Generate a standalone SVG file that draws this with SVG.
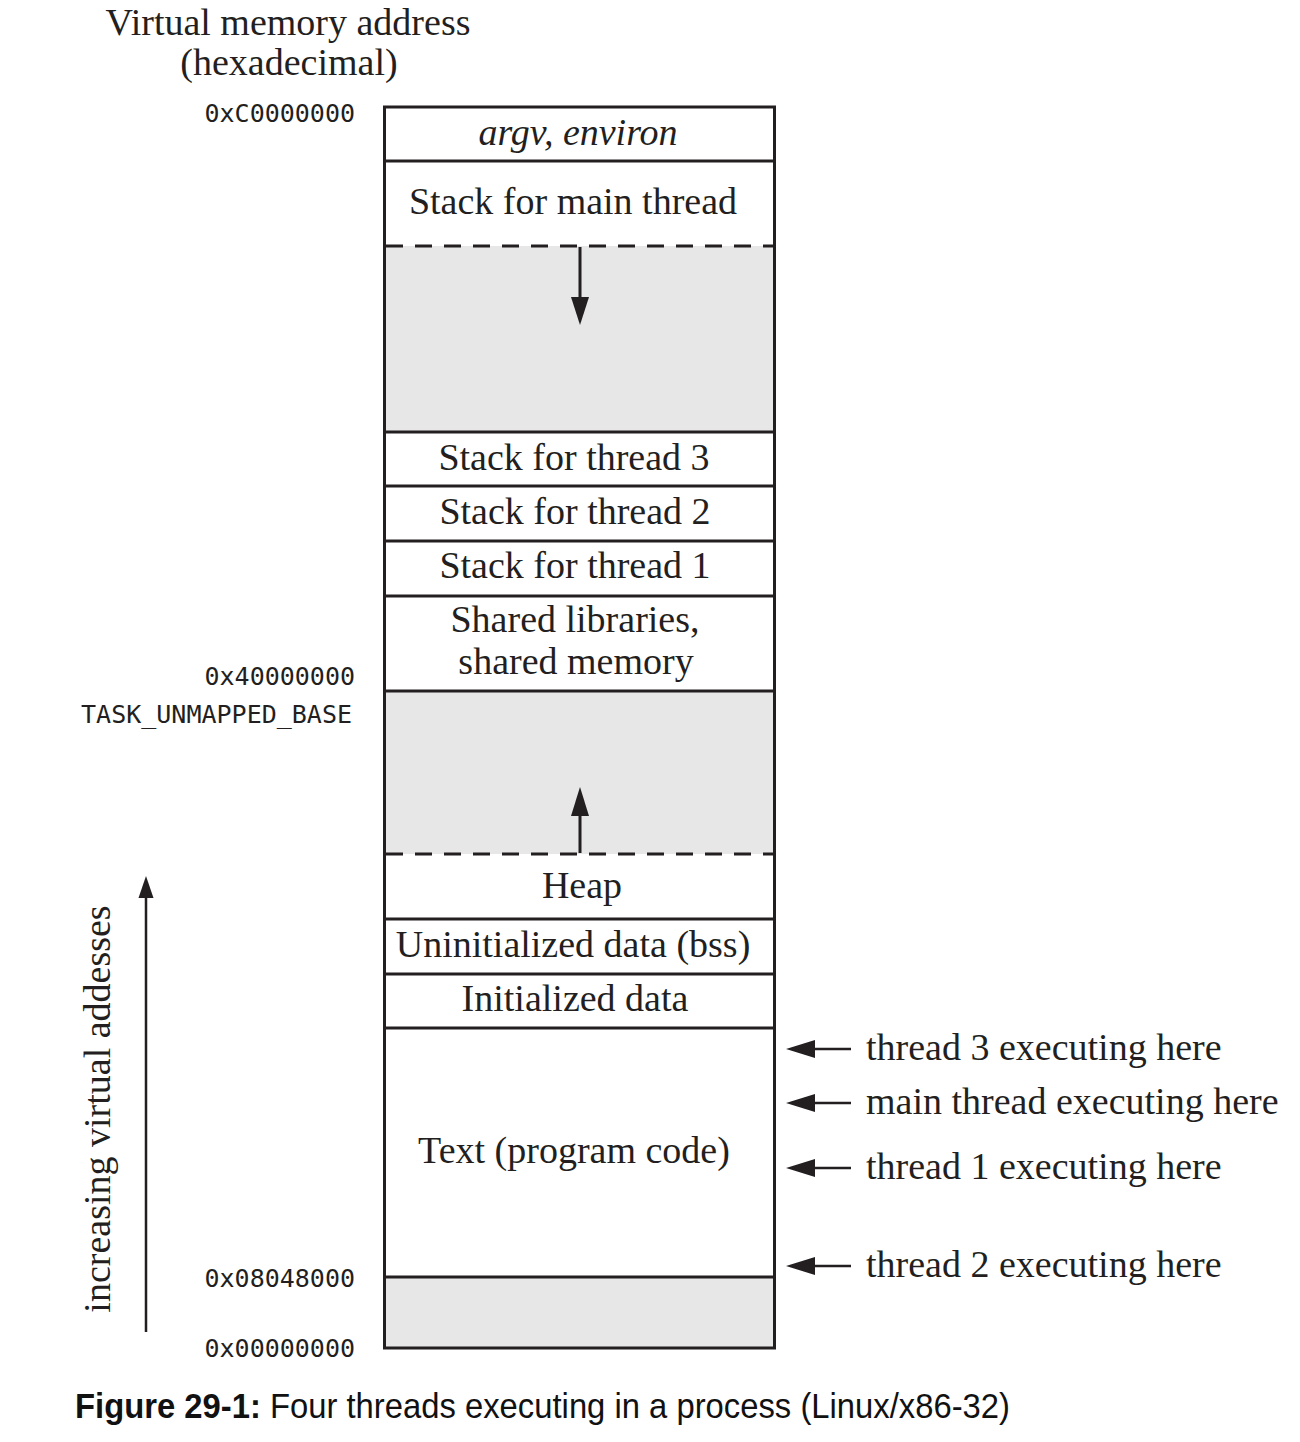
<svg xmlns="http://www.w3.org/2000/svg" width="1300" height="1442" viewBox="0 0 1300 1442">
<defs>
<style>
.serif{font-family:"Liberation Serif","Times New Roman",serif;font-size:38px;fill:#231f20}
.mid{text-anchor:middle}
.mono{font-family:"DejaVu Sans Mono","Liberation Mono",monospace;font-size:25px;fill:#231f20;text-anchor:end}
.cap{font-family:"Liberation Sans",Arial,sans-serif;font-size:35px;fill:#111}
.box{fill:none;stroke:#231f20;stroke-width:3}
.sep{stroke:#231f20;stroke-width:3}
.dash{stroke:#231f20;stroke-width:3;stroke-dasharray:17 12}
.grey{fill:#e6e7e6}
.thin{stroke:#231f20;stroke-width:2.5}
.ar{fill:#231f20}
</style>
</defs>
<rect width="1300" height="1442" fill="#ffffff"/>

<g id="title">
<text class="serif mid" x="288" y="35">Virtual memory address</text>
<text class="serif mid" x="289" y="75">(hexadecimal)</text>
</g>

<g id="addresses">
<text class="mono" x="355" y="122">0xC0000000</text>
<text class="mono" x="355" y="685">0x40000000</text>
<text class="mono" x="352" y="723">TASK_UNMAPPED_BASE</text>
<text class="mono" x="355" y="1287">0x08048000</text>
<text class="mono" x="355" y="1357">0x00000000</text>
</g>

<g id="memory">
<rect class="grey" x="385" y="246" width="389" height="186"/>
<rect class="grey" x="385" y="691" width="389" height="163"/>
<rect class="grey" x="385" y="1277" width="389" height="71"/>
<g id="argv"><line class="sep" x1="384" y1="161" x2="775" y2="161"/>
<text class="serif mid" x="578" y="145" font-style="italic">argv, environ</text></g>
<g id="stack-main"><line class="dash" x1="386" y1="246" x2="774" y2="246"/>
<text class="serif mid" x="573" y="214">Stack for main thread</text></g>
<g id="stack-t3"><line class="sep" x1="384" y1="432" x2="775" y2="432"/>
<text class="serif mid" x="574" y="470">Stack for thread 3</text></g>
<g id="stack-t2"><line class="sep" x1="384" y1="486" x2="775" y2="486"/>
<text class="serif mid" x="575" y="524">Stack for thread 2</text></g>
<g id="stack-t1"><line class="sep" x1="384" y1="541" x2="775" y2="541"/>
<text class="serif mid" x="575" y="578">Stack for thread 1</text></g>
<g id="shared"><line class="sep" x1="384" y1="596" x2="775" y2="596"/>
<text class="serif mid" x="575" y="632">Shared libraries,</text>
<text class="serif mid" x="576" y="674">shared memory</text></g>
<line class="sep" x1="384" y1="691" x2="775" y2="691"/>
<g id="heap"><line class="dash" x1="386" y1="854" x2="774" y2="854"/>
<text class="serif mid" x="582" y="898">Heap</text></g>
<g id="bss"><line class="sep" x1="384" y1="919" x2="775" y2="919"/>
<text class="serif mid" x="573" y="957">Uninitialized data (bss)</text></g>
<g id="data"><line class="sep" x1="384" y1="974" x2="775" y2="974"/>
<text class="serif mid" x="575" y="1011">Initialized data</text></g>
<g id="text-seg"><line class="sep" x1="384" y1="1028" x2="775" y2="1028"/>
<text class="serif mid" x="574" y="1163">Text (program code)</text></g>
<line class="sep" x1="384" y1="1277" x2="775" y2="1277"/>
<rect class="box" x="384.5" y="107" width="390" height="1241"/>
</g>

<g id="connectors">
<line stroke="#231f20" stroke-width="3" x1="580" y1="247" x2="580" y2="300"/>
<polygon class="ar" points="571,297 589,297 580,325"/>
<line stroke="#231f20" stroke-width="3" x1="580" y1="853" x2="580" y2="812"/>
<polygon class="ar" points="571,816 589,816 580,787"/>
<line class="thin" x1="146" y1="1332" x2="146" y2="894"/>
<polygon class="ar" points="138.5,898 153.5,898 146,876"/>
<line class="thin" x1="812" y1="1049" x2="851" y2="1049"/>
<polygon class="ar" points="786,1049 815,1040 815,1058"/>
<line class="thin" x1="812" y1="1103" x2="851" y2="1103"/>
<polygon class="ar" points="786,1103 815,1094 815,1112"/>
<line class="thin" x1="812" y1="1168" x2="851" y2="1168"/>
<polygon class="ar" points="786,1168 815,1159 815,1177"/>
<line class="thin" x1="812" y1="1266" x2="851" y2="1266"/>
<polygon class="ar" points="786,1266 815,1257 815,1275"/>
</g>

<g id="labels">
<text class="serif mid" x="0" y="0" transform="translate(110,1109) rotate(-90)">increasing virtual addesses</text>
<text class="serif" x="866" y="1060">thread 3 executing here</text>
<text class="serif" x="866" y="1114">main thread executing here</text>
<text class="serif" x="866" y="1179">thread 1 executing here</text>
<text class="serif" x="866" y="1277">thread 2 executing here</text>
</g>

<g id="caption">
<text class="cap" x="75" y="1418" textLength="935" lengthAdjust="spacingAndGlyphs"><tspan font-weight="bold">Figure 29-1:</tspan> Four threads executing in a process (Linux/x86-32)</text>
</g>
</svg>
